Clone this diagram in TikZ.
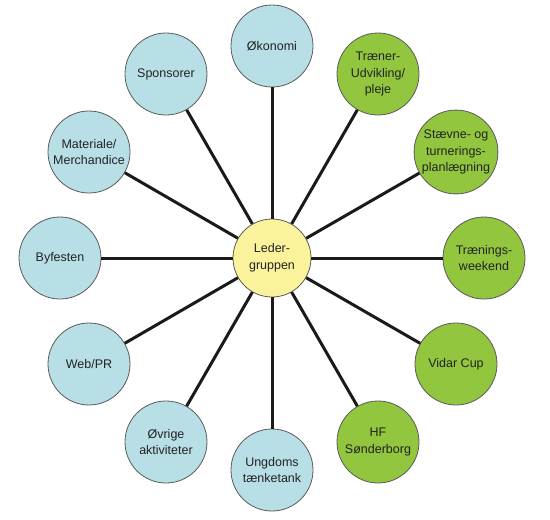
\documentclass[tikz,border=0pt]{standalone}
\usepackage{fontspec}
\setmainfont{Liberation Sans}
\definecolor{cblue}{HTML}{B9DFE6}
\definecolor{cgreen}{HTML}{92C63E}
\definecolor{cyellow}{HTML}{FBF39C}
\definecolor{cline}{HTML}{1A1A1A}
\definecolor{cborder}{HTML}{5A5A5A}
\definecolor{ctext}{HTML}{222222}
\begin{document}
\begin{tikzpicture}[x=1pt,y=-1pt,
  bub/.style={circle,draw=cborder,line width=0.8pt,minimum size=82pt,inner sep=1pt,align=center,
    font=\fontsize{12.5}{16.5}\selectfont,text=ctext},
  bluebub/.style={bub,fill=cblue},
  greenbub/.style={bub,fill=cgreen},
  hub/.style={bub,fill=cyellow,minimum size=78pt},
  spoke/.style={draw=cline,line width=3pt}]
\useasboundingbox (0,0) rectangle (550,520);
\node[bluebub]  (n0)  at (272,46)  {Økonomi};
\node[greenbub] (n1)  at (378,74)  {Træner-\\Udvikling/\\pleje};
\node[greenbub] (n2)  at (456,152) {Stævne- og\\turnerings-\\planlægning};
\node[greenbub] (n3)  at (484,258) {Trænings-\\weekend};
\node[greenbub] (n4)  at (456,364) {Vidar Cup};
\node[greenbub] (n5)  at (378,442) {HF\\Sønderborg};
\node[bluebub]  (n6)  at (272,470) {Ungdoms\\tænketank};
\node[bluebub]  (n7)  at (166,442) {Øvrige\\aktiviteter};
\node[bluebub]  (n8)  at (89,364)  {Web/PR};
\node[bluebub]  (n9)  at (60,258)  {Byfesten};
\node[bluebub]  (n10) at (89,152)  {Materiale/\\Merchandice};
\node[bluebub]  (n11) at (166,74)  {Sponsorer};
\node[hub] (center) at (272,258) {Leder-\\gruppen};
\foreach \i in {0,...,11}{
  \draw[spoke] (center) -- (n\i);
}
\end{tikzpicture}
\end{document}
